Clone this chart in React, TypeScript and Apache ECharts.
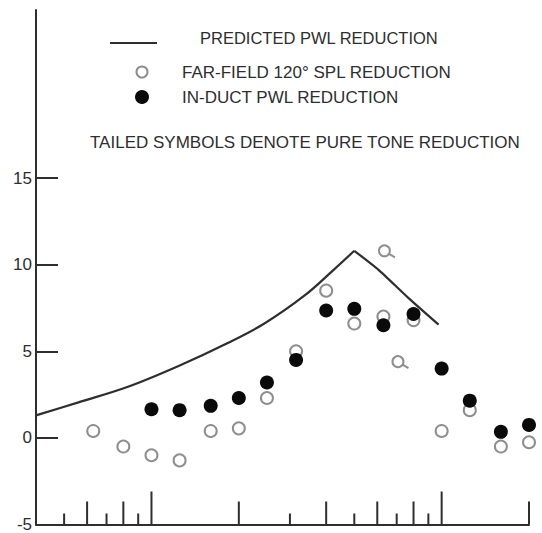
import React, { useEffect, useRef } from "react";
import * as echarts from "echarts";

// one-third-octave band centre frequencies (kHz)
const bandFreqs = [0.63, 0.8, 1, 1.25, 1.6, 2, 2.5, 3.15, 4, 5, 6.3, 8, 10, 12.5, 16, 20];
// far-field 120 deg SPL reduction (dB), open circles
const farFieldSpl = [0.4, -0.5, -1.0, -1.3, 0.4, 0.55, 2.3, 5.0, 8.5, 6.6, 7.0, 6.8, 0.4, 1.6, -0.5, -0.25];
// in-duct PWL reduction (dB), filled circles
const inDuctFreqs = [1, 1.25, 1.6, 2, 2.5, 3.15, 4, 5, 6.3, 8, 10, 12.5, 16, 20];
const inDuctPwl = [1.65, 1.6, 1.85, 2.3, 3.2, 4.5, 7.35, 7.45, 6.5, 7.15, 4.0, 2.15, 0.35, 0.75];
// pure tone reductions (tailed open symbols)
const toneFreqs = [6.35, 7.07];
const toneSpl = [10.8, 4.4];
// predicted PWL reduction curve: rising branch up to the peak, then falling branch
const predRiseFreqs = [0.4, 0.56, 0.83, 1.24, 1.84, 2.45, 3.39, 4.18, 5.0];
const predRisePwl = [1.3, 2.05, 2.95, 4.15, 5.49, 6.6, 8.25, 9.6, 10.8];
const predFallFreqs = [5.0, 6.06, 7.69, 9.76];
const predFallPwl = [10.8, 9.7, 8.07, 6.54];
// axis ticks
const xTickValues = [0.5, 0.6, 0.7, 0.8, 0.9, 1, 2, 3, 4, 5, 6, 7, 8, 9, 10, 20];
const yTickValues = [-5, 0, 5, 10, 15];

const legendLabels = [
  "PREDICTED PWL REDUCTION",
  "FAR-FIELD 120\u00B0 SPL REDUCTION",
  "IN-DUCT PWL REDUCTION",
  "TAILED SYMBOLS DENOTE PURE TONE REDUCTION",
];

const INK = "#2e2e2e";
const OPEN = "#8e8e8e";
const FONT = "'Liberation Sans', Arial, sans-serif";

export default function App() {
  const ref = useRef<HTMLDivElement>(null);

  useEffect(() => {
    if (!ref.current) return;
    const chart = echarts.init(ref.current, null, { renderer: "svg" });

    const tickLen = (f: number) => {
      const lg = Math.log10(f);
      if (Math.abs(lg - Math.round(lg)) < 1e-6) return 33;
      const lead = Math.round(f / Math.pow(10, Math.floor(lg + 1e-9)));
      return lead % 2 === 0 ? 23 : 11;
    };

    const textStyle = (text: string, x: number, y: number, size = 17) => ({
      type: "text",
      x,
      y,
      style: {
        text,
        fill: INK,
        fontSize: size,
        fontFamily: FONT,
        verticalAlign: "middle",
        align: "left",
      },
    });

    const predLine = {
      type: "line",
      showSymbol: false,
      symbol: "none",
      lineStyle: { color: INK, width: 2.2 },
      silent: true,
    };

    chart.setOption({
      animation: false,
      backgroundColor: "#fff",
      grid: { left: 36, right: 13, top: 10, bottom: 5, containLabel: false },
      xAxis: {
        type: "log",
        logBase: 10,
        min: 0.4,
        max: 20,
        axisLine: { show: true, onZero: false, lineStyle: { color: INK, width: 2 } },
        axisTick: { show: false },
        axisLabel: { show: false },
        splitLine: { show: false },
        minorTick: { show: false },
      },
      yAxis: {
        type: "value",
        min: -5,
        max: 24.7,
        interval: 5,
        axisLine: { show: true, lineStyle: { color: INK, width: 2 } },
        axisTick: {
          show: true,
          inside: true,
          length: 22,
          customValues: yTickValues,
          lineStyle: { color: INK, width: 2 },
        },
        axisLabel: {
          show: true,
          customValues: yTickValues,
          margin: 4,
          color: INK,
          fontSize: 17,
          fontFamily: FONT,
        },
        splitLine: { show: false },
      },
      graphic: [
        {
          type: "line",
          shape: { x1: 110, y1: 43, x2: 157, y2: 43 },
          style: { stroke: INK, lineWidth: 2 },
        },
        textStyle(legendLabels[0], 200, 38, 16.5),
        {
          type: "circle",
          shape: { cx: 142, cy: 72, r: 5.5 },
          style: { fill: "#fff", stroke: OPEN, lineWidth: 2 },
        },
        textStyle(legendLabels[1], 182, 72),
        {
          type: "circle",
          shape: { cx: 142, cy: 97, r: 7 },
          style: { fill: "#0a0a0a" },
        },
        textStyle(legendLabels[2], 182, 97),
        textStyle(legendLabels[3], 90, 142),
      ],
      series: [
        {
          type: "custom",
          name: "xticks",
          silent: true,
          clip: false,
          data: xTickValues.map((f) => [f, -5]),
          renderItem: (_params: any, api: any) => {
            const f = api.value(0);
            const p = api.coord([f, -5]);
            return {
              type: "line",
              shape: { x1: p[0], y1: p[1], x2: p[0], y2: p[1] - tickLen(f) },
              style: { stroke: INK, lineWidth: 2 },
            };
          },
        },
        {
          ...predLine,
          name: "PREDICTED PWL REDUCTION",
          data: predRiseFreqs.map((f, i) => [f, predRisePwl[i]]),
          smooth: 0.35,
        },
        {
          ...predLine,
          name: "PREDICTED PWL REDUCTION (falling)",
          data: predFallFreqs.map((f, i) => [f, predFallPwl[i]]),
          smooth: 0.2,
        },
        {
          type: "scatter",
          name: "FAR-FIELD 120\u00B0 SPL REDUCTION",
          data: bandFreqs.map((f, i) => [f, farFieldSpl[i]]),
          symbol: "circle",
          symbolSize: 12,
          itemStyle: { color: "rgba(255,255,255,0)", borderColor: OPEN, borderWidth: 2, opacity: 1 },
        },
        {
          type: "custom",
          name: "PURE TONE",
          clip: false,
          data: toneFreqs.map((f, i) => [f, toneSpl[i]]),
          renderItem: (_params: any, api: any) => {
            const p = api.coord([api.value(0), api.value(1)]);
            return {
              type: "group",
              children: [
                {
                  type: "circle",
                  shape: { cx: p[0], cy: p[1], r: 5.5 },
                  style: { fill: "rgba(255,255,255,0)", stroke: OPEN, lineWidth: 2 },
                },
                {
                  type: "line",
                  shape: { x1: p[0] + 4.6, y1: p[1] + 3, x2: p[0] + 10.5, y2: p[1] + 6.5 },
                  style: { stroke: OPEN, lineWidth: 2 },
                },
              ],
            };
          },
        },
        {
          type: "scatter",
          name: "IN-DUCT PWL REDUCTION",
          data: inDuctFreqs.map((f, i) => [f, inDuctPwl[i]]),
          symbol: "circle",
          symbolSize: 14,
          itemStyle: { color: "#0a0a0a", opacity: 1 },
        },
      ],
    });

    return () => chart.dispose();
  }, []);

  return (
    <div
      ref={ref}
      style={{ position: "absolute", left: 0, top: 0, width: 542, height: 533 }}
    />
  );
}
